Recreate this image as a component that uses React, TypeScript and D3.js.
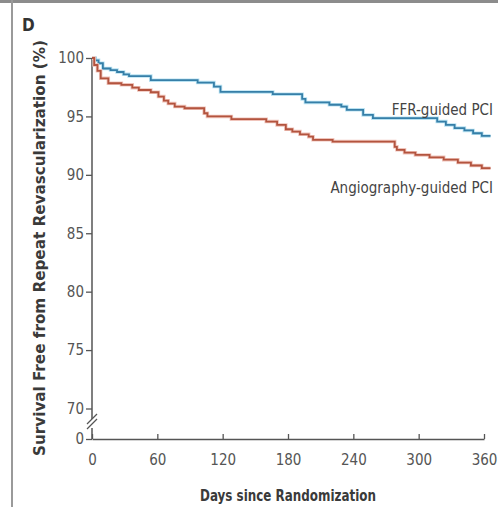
import React, { useEffect, useRef } from 'react'
import * as d3 from 'd3'

// Kaplan-Meier steps (day, % free of repeat revascularization)
const ffrDays = [0, 3, 6, 10, 17, 23, 29, 34, 54, 97, 112, 118, 166, 193, 196, 218, 229, 234, 249, 258, 317, 325, 333, 342, 350, 358, 366]
const ffrSurv = [100, 99.8, 99.55, 99.1, 98.97, 98.8, 98.6, 98.45, 98.1, 97.9, 97.55, 97.1, 96.9, 96.5, 96.2, 96.0, 95.84, 95.56, 95.13, 94.85, 94.56, 94.27, 94.0, 93.8, 93.56, 93.33, 93.33]
const angioDays = [0, 2, 5, 8, 15, 27, 37, 43, 54, 61, 66, 70, 76, 85, 103, 106, 128, 160, 170, 178, 184, 191, 199, 203, 221, 278, 280, 287, 297, 310, 323, 336, 348, 358, 366]
const angioSurv = [100, 99.4, 98.9, 98.26, 97.84, 97.7, 97.46, 97.26, 97.07, 96.7, 96.35, 96.1, 95.84, 95.7, 95.27, 95.0, 94.76, 94.56, 94.27, 93.9, 93.7, 93.47, 93.27, 93.0, 92.85, 92.4, 92.14, 91.9, 91.7, 91.5, 91.3, 91.05, 90.8, 90.57, 90.57]
const xTicks = [0, 60, 120, 180, 240, 300, 360]
const yTicks = [0, 70, 75, 80, 85, 90, 95, 100]

const FONT = "'DejaVu Sans Condensed', 'DejaVu Sans', sans-serif"

export default function App() {
    const ref = useRef<SVGSVGElement>(null)

    useEffect(() => {
        const svg = d3.select(ref.current)
        svg.selectAll('*').remove()

        const x = d3.scaleLinear().domain([0, 360]).range([92, 484])
        // broken axis: 0 sits below the break, 70-100 above it
        const y = d3.scaleLinear().domain([0, 70, 100]).range([439, 408.5, 58])

        // panel frame
        svg.append('rect').attr('x', 0).attr('y', 0).attr('width', 498).attr('height', 3).attr('fill', '#8c8c8c')
        svg.append('rect').attr('x', 11).attr('y', 0).attr('width', 2).attr('height', 507).attr('fill', '#9a9a9a')

        svg.append('text')
            .attr('x', 22).attr('y', 31)
            .attr('font-family', FONT).attr('font-size', 17).attr('font-weight', 'bold')
            .attr('fill', '#333')
            .text('D')

        // x axis
        const xAxis = svg.append('g')
            .attr('transform', 'translate(0,' + y(0) + ')')
            .call(d3.axisBottom(x).tickValues(xTicks).tickSize(-5).tickSizeOuter(0).tickPadding(15))
        xAxis.select('.domain').attr('stroke', '#555').attr('stroke-width', 1.5)
        xAxis.selectAll('line').attr('stroke', '#555').attr('stroke-width', 1.3)
        xAxis.selectAll('text').attr('font-family', FONT).attr('font-size', 15).attr('fill', '#555')

        // y axis
        const yAxis = svg.append('g')
            .attr('transform', 'translate(' + x(0) + ',0)')
            .call(d3.axisLeft(y).tickValues(yTicks).tickSize(6).tickPadding(2))
        yAxis.select('.domain').remove()
        yAxis.selectAll('line').attr('stroke', '#555').attr('stroke-width', 1.3)
        yAxis.selectAll('text').attr('font-family', FONT).attr('font-size', 15).attr('fill', '#555')

        const axisCol = '#555'
        svg.append('line').attr('x1', x(0)).attr('x2', x(0)).attr('y1', y(100)).attr('y2', 419)
            .attr('stroke', axisCol).attr('stroke-width', 1.5)
        svg.append('line').attr('x1', x(0)).attr('x2', x(0)).attr('y1', 428).attr('y2', y(0))
            .attr('stroke', axisCol).attr('stroke-width', 1.5)
        // break marks
        ;[0, 5].forEach(off => {
            svg.append('line')
                .attr('x1', x(0) - 5).attr('y1', 424 + off)
                .attr('x2', x(0) + 5).attr('y2', 414 + off)
                .attr('stroke', axisCol).attr('stroke-width', 1.3)
        })

        // curves
        const drawCurve = (days: number[], surv: number[], col: string, halo: string) => {
            const pts: [number, number][] = days.map((d, i) => [x(d), y(surv[i])])
            const path = d3.line().curve(d3.curveStepAfter)(pts)
            svg.append('path').attr('d', path).attr('fill', 'none').attr('stroke', halo).attr('stroke-width', 3.5)
            svg.append('path').attr('d', path).attr('fill', 'none').attr('stroke', col).attr('stroke-width', 1.8)
        }
        drawCurve(ffrDays, ffrSurv, '#367fa8', '#b9e2f2')
        drawCurve(angioDays, angioSurv, '#b3543f', '#f0c4bb')

        // labels
        svg.append('text')
            .attr('x', 493).attr('y', 115).attr('text-anchor', 'end')
            .attr('font-family', FONT).attr('font-size', 15).attr('fill', '#444')
            .text('FFR-guided PCI')
        svg.append('text')
            .attr('x', 493).attr('y', 193).attr('text-anchor', 'end')
            .attr('font-family', FONT).attr('font-size', 15).attr('fill', '#444')
            .text('Angiography-guided PCI')

        svg.append('text')
            .attr('x', 288).attr('y', 501).attr('text-anchor', 'middle')
            .attr('font-family', FONT).attr('font-size', 15).attr('font-weight', 'bold').attr('fill', '#3a3a3a')
            .attr('textLength', 176).attr('lengthAdjust', 'spacingAndGlyphs')
            .text('Days since Randomization')
        svg.append('text')
            .attr('transform', 'translate(45,248) rotate(-90)')
            .attr('text-anchor', 'middle')
            .attr('font-family', FONT).attr('font-size', 15).attr('font-weight', 'bold').attr('fill', '#3a3a3a')
            .attr('textLength', 416).attr('lengthAdjust', 'spacingAndGlyphs')
            .text('Survival Free from Repeat Revascularization (%)')
    }, [])

    return (
        <svg ref={ref} width={498} height={507}
            style={{ position: 'absolute', left: 0, top: 0, background: '#fff' }} />
    )
}
